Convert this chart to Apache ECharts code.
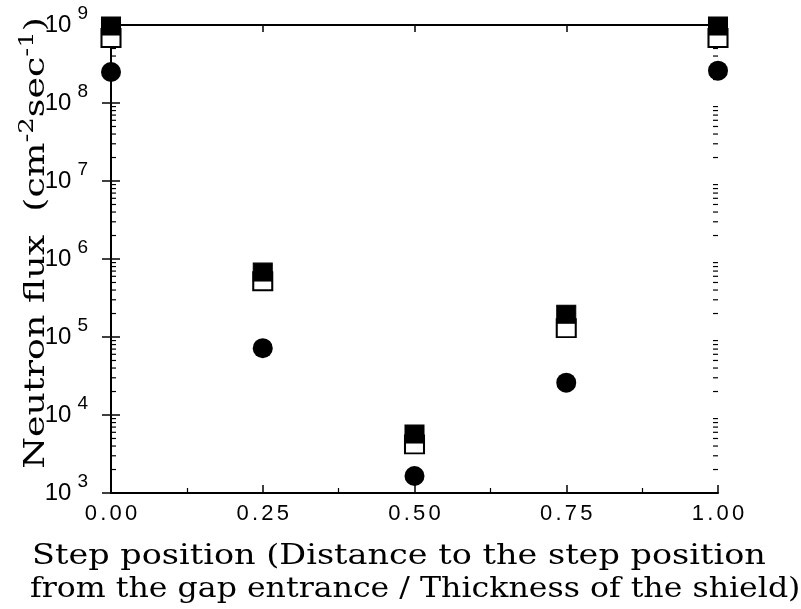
<!DOCTYPE html>
<html>
<head>
<meta charset="utf-8">
<script src="https://cdn.jsdelivr.net/npm/echarts@6/dist/echarts.min.js"></script>
<style>
  html, body { margin: 0; padding: 0; background: #fff; }
  #chart { width: 801px; height: 609px; }
</style>
</head>
<body>
<div id="chart"></div>
<script>
// Step positions (fraction of shield thickness)
const stepPositions = [0.00, 0.25, 0.50, 0.75, 1.00];
// Neutron flux (cm^-2 s^-1) for the three data sets
const fluxFilledSquare = [9.7e8, 6.8e5, 5.7e3, 1.96e5, 9.7e8];
const fluxOpenSquare   = [6.8e8, 5.2e5, 4.2e3, 1.30e5, 6.8e8];
const fluxCircle       = [2.5e8, 7.2e4, 1.65e3, 2.6e4, 2.6e8];
// Axis ticks
const xTicks = [0.00, 0.25, 0.50, 0.75, 1.00];
const yDecades = [3, 4, 5, 6, 7, 8, 9];
// Log minor tick values (2..9 × 10^d)
const yMinorValues = [];
for (let d = yDecades[0]; d < yDecades[yDecades.length - 1]; d++) {
  for (let k = 2; k <= 9; k++) yMinorValues.push(k * Math.pow(10, d));
}

const pair = (xs, ys) => xs.map((x, i) => [x, ys[i]]);
// Each character as its own rich token, so the labels get a little letter spacing
const spacedRich = s => s.split('').map(c => '{d|' + c + '}').join('');

const chart = echarts.init(document.getElementById('chart'), null, { renderer: 'canvas' });

const axisLine = { show: true, lineStyle: { color: '#000', width: 2 } };

const option = {
  backgroundColor: '#fff',
  animation: false,
  grid: { left: 111, right: 83, top: 25, bottom: 116, containLabel: false },
  xAxis: [
    {
      type: 'value', min: xTicks[0], max: xTicks[xTicks.length - 1], interval: 0.25, position: 'bottom',
      axisLine,
      axisTick: { show: true, inside: true, length: 8, lineStyle: { color: '#000', width: 1.5 } },
      minorTick: { show: true, splitNumber: 2, length: 5, lineStyle: { color: '#000', width: 1.2 } },
      splitLine: { show: false },
      axisLabel: {
        margin: 10, color: '#000',
        formatter: v => spacedRich(v.toFixed(2)),
        rich: { d: { fontFamily: 'Liberation Sans', fontSize: 22, color: '#000', padding: [0, 1.6] } }
      }
    },
    {
      type: 'value', min: xTicks[0], max: xTicks[xTicks.length - 1], interval: 0.25, position: 'top',
      axisLine,
      axisTick: { show: true, inside: true, length: 7, lineStyle: { color: '#000', width: 1.5 } },
      splitLine: { show: false },
      axisLabel: { show: false }
    }
  ],
  yAxis: [
    {
      type: 'log', logBase: 10, min: 1e3, max: 1e9, interval: 1, position: 'left',
      axisLine,
      axisTick: { show: true, inside: true, length: 9, lineStyle: { color: '#000', width: 1.5 } },
      splitLine: { show: false },
      axisLabel: {
        margin: 23, color: '#000',
        formatter: v => '{b|10}{s|' + Math.round(Math.log10(v)) + '}',
        rich: {
          b: { fontFamily: 'Liberation Sans', fontSize: 24, color: '#000', padding: [0, 1, 0, 0] },
          s: { fontFamily: 'Liberation Sans', fontSize: 19, color: '#000', padding: [0, 0, 22, 5] }
        }
      }
    },
    {
      type: 'log', logBase: 10, min: 1e3, max: 1e9, interval: 1, position: 'right',
      axisLine,
      axisTick: { show: true, inside: true, length: 9, lineStyle: { color: '#000', width: 1.5 } },
      splitLine: { show: false },
      axisLabel: { show: false }
    }
  ],
  graphic: [
    {
      type: 'text', x: 37, y: 243, rotation: Math.PI / 2, scaleX: 1.3,
      style: {
        text: 'Neutron flux  (cm{sup|-2}sec{sup|-1})',
        fontFamily: 'DejaVu Serif', fontSize: 28, fill: '#000',
        align: 'center', verticalAlign: 'middle',
        rich: {
          sup: { fontFamily: 'DejaVu Serif', fontSize: 20, fill: '#000', padding: [0, 0, 18, 0] }
        }
      }
    },
    {
      type: 'text', x: 32, y: 557, scaleX: 1.24,
      style: {
        text: 'Step position (Distance to the step position',
        fontFamily: 'DejaVu Serif', fontSize: 27, fill: '#000',
        align: 'left', verticalAlign: 'middle'
      }
    },
    {
      type: 'text', x: 30, y: 590, scaleX: 1.17,
      style: {
        text: 'from the gap entrance / Thickness of the shield)',
        fontFamily: 'DejaVu Serif', fontSize: 27, fill: '#000',
        align: 'left', verticalAlign: 'middle'
      }
    }
  ],
  series: [
    {
      name: 'Minor ticks', type: 'custom', xAxisIndex: 0, yAxisIndex: 0, silent: true, z: 1,
      data: yMinorValues.map(v => [xTicks[0], v]),
      renderItem: (params, api) => {
        const v = api.value(1);
        const l = api.coord([xTicks[0], v]);
        const r = api.coord([xTicks[xTicks.length - 1], v]);
        const style = { stroke: '#000', lineWidth: 1.2 };
        return {
          type: 'group', children: [
            { type: 'line', shape: { x1: l[0], y1: l[1], x2: l[0] + 5, y2: l[1] }, style },
            { type: 'line', shape: { x1: r[0], y1: r[1], x2: r[0] - 5, y2: r[1] }, style }
          ]
        };
      }
    },
    {
      name: 'Open square', type: 'scatter', z: 3,
      data: pair(stepPositions, fluxOpenSquare),
      symbol: 'rect', symbolSize: [19, 18],
      itemStyle: { color: '#fff', borderColor: '#000', borderWidth: 2, opacity: 1 }
    },
    {
      name: 'Filled square', type: 'scatter', z: 4,
      data: pair(stepPositions, fluxFilledSquare),
      symbol: 'rect', symbolSize: [19, 18],
      itemStyle: { color: '#000', borderColor: '#000', borderWidth: 1, opacity: 1 }
    },
    {
      name: 'Filled circle', type: 'scatter', z: 4,
      data: pair(stepPositions, fluxCircle),
      symbol: 'circle', symbolSize: 20,
      itemStyle: { color: '#000', opacity: 1 }
    }
  ]
};

chart.setOption(option);
</script>
</body>
</html>
